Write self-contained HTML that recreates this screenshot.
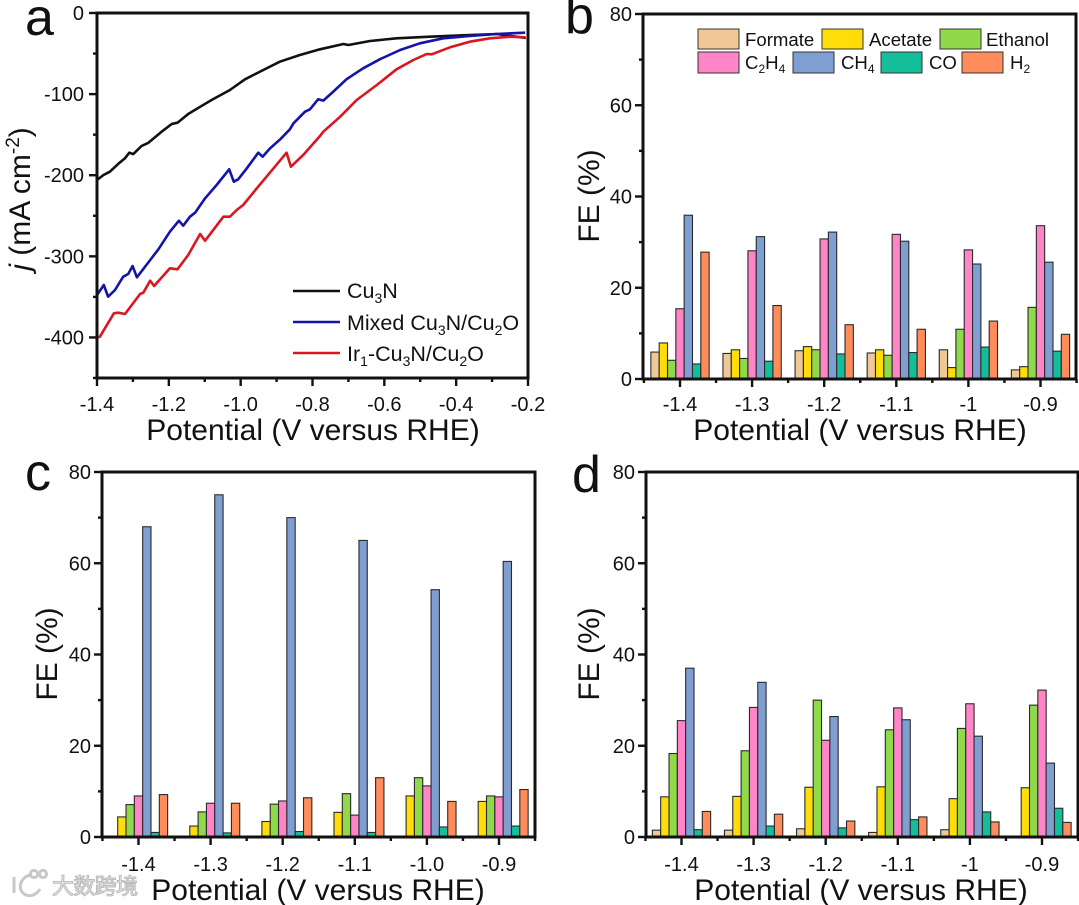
<!DOCTYPE html>
<html lang="en">
<head>
<meta charset="utf-8">
<title>Electrocatalysis chart panels</title>
<style>
html,body{margin:0;padding:0;background:#fff;}
svg{display:block;font-family:"Liberation Sans","Noto Sans CJK SC",sans-serif;fill:#111;}
.frame{fill:none;stroke:#111;stroke-width:3;}
.title{font-size:30px;text-anchor:middle;}
.letter{font-size:52px;}
.tick{font-size:20px;}
.leg-a{font-size:21.5px;}
.leg-b{font-size:18.6px;}
.sw{stroke:#333;stroke-width:1;}
</style>
</head>
<body>
<svg id="chart" xmlns="http://www.w3.org/2000/svg" width="1079" height="905" viewBox="0 0 1079 905">
  <rect x="0" y="0" width="1079" height="905" fill="#fff"/>

  <g id="panel-a"></g>
  <g id="panel-b"></g>
  <g id="panel-c"></g>
  <g id="panel-d"></g>

  <text class="letter" x="25" y="35">a</text>
  <text class="letter" x="565" y="33">b</text>
  <text class="letter" x="25" y="490">c</text>
  <text class="letter" x="572" y="492">d</text>

  <text class="title" x="313" y="440">Potential (V versus RHE)</text>
  <text class="title" x="860" y="440">Potential (V versus RHE)</text>
  <text class="title" x="318" y="900">Potential (V versus RHE)</text>
  <text class="title" x="861" y="900">Potential (V versus RHE)</text>

  <text class="title" transform="translate(30,199) rotate(-90)"><tspan font-style="italic">j</tspan> (mA cm<tspan font-size="19" dy="-11">-2</tspan><tspan dy="11">)</tspan></text>
  <text class="title" transform="translate(599,196) rotate(-90)">FE (%)</text>
  <text class="title" transform="translate(57,654) rotate(-90)">FE (%)</text>
  <text class="title" transform="translate(599,654) rotate(-90)">FE (%)</text>

  <g>
    <line x1="293" y1="291" x2="340" y2="291" stroke="#111" stroke-width="2.5"/>
    <text class="leg-a" x="347" y="298">Cu<tspan font-size="14" dy="5">3</tspan><tspan dy="-5">N</tspan></text>
    <line x1="293" y1="322" x2="340" y2="322" stroke="#1414a8" stroke-width="2.5"/>
    <text class="leg-a" x="347" y="330">Mixed Cu<tspan font-size="14" dy="5">3</tspan><tspan dy="-5">N/Cu</tspan><tspan font-size="14" dy="5">2</tspan><tspan dy="-5">O</tspan></text>
    <line x1="293" y1="353" x2="340" y2="353" stroke="#d81820" stroke-width="2.5"/>
    <text class="leg-a" x="347" y="361">Ir<tspan font-size="14" dy="5">1</tspan><tspan dy="-5">-Cu</tspan><tspan font-size="14" dy="5">3</tspan><tspan dy="-5">N/Cu</tspan><tspan font-size="14" dy="5">2</tspan><tspan dy="-5">O</tspan></text>
  </g>

  <g>
    <rect class="sw" x="698" y="29" width="41" height="20" fill="#f0c896"/>
    <text class="leg-b" x="745" y="46">Formate</text>
    <rect class="sw" x="822" y="29" width="41" height="20" fill="#ffdc0a"/>
    <text class="leg-b" x="869" y="46">Acetate</text>
    <rect class="sw" x="940" y="29" width="41" height="20" fill="#8fd94a"/>
    <text class="leg-b" x="986" y="46">Ethanol</text>
    <rect class="sw" x="698" y="52" width="41" height="21" fill="#ff85c8"/>
    <text class="leg-b" x="745" y="69">C<tspan font-size="12" dy="4">2</tspan><tspan dy="-4">H</tspan><tspan font-size="12" dy="4">4</tspan></text>
    <rect class="sw" x="793" y="52" width="41" height="21" fill="#7f9fd2"/>
    <text class="leg-b" x="841" y="69">CH<tspan font-size="12" dy="4">4</tspan></text>
    <rect class="sw" x="881" y="52" width="41" height="21" fill="#14be9b"/>
    <text class="leg-b" x="929" y="69">CO</text>
    <rect class="sw" x="962" y="52" width="41" height="21" fill="#ff8c5a"/>
    <text class="leg-b" x="1010" y="69">H<tspan font-size="12" dy="4">2</tspan></text>
  </g>

  <g>
    <g fill="none" stroke="#c8c8c8" stroke-width="3">
      <path d="M14 877 L14 893"/>
      <path d="M30 875 C19 878 17 891 26 895 C32 897 37 894 40 889"/>
      <circle cx="34" cy="874" r="3.6"/>
      <circle cx="43" cy="874" r="3.6"/>
    </g>
    <text x="52" y="894" font-size="22" textLength="86" fill="#f4f4f4" stroke="#bdbdbd" stroke-width="1.1">大数跨境</text>
  </g>
</svg>

<script>
/* ---------- panel a : LSV curves ---------- */
const lsvXTicks = [-1.4, -1.2, -1.0, -0.8, -0.6, -0.4, -0.2];
const lsvXMinorTicks = [-1.3, -1.1, -0.9, -0.7, -0.5, -0.3];
const lsvYTicks = [0, -100, -200, -300, -400];
const lsvYMinorTicks = [-50, -150, -250, -350, -450];

const cu3nPotential = [-1.4,-1.382,-1.364,-1.341,-1.322,-1.31,-1.299,-1.276,-1.257,-1.22,-1.192,-1.176,-1.146,-1.113,-1.081,-1.03,-0.988,-0.937,-0.891,-0.835,-0.779,-0.714,-0.7,-0.64,-0.566,-0.473,-0.381,-0.286,-0.206];
const cu3nCurrent = [-205.9,-199.7,-195.6,-186,-179,-172.2,-173.9,-164,-160,-146.3,-136.9,-135.3,-124.5,-115.6,-107.3,-94.9,-81.7,-70.3,-60,-51.8,-44.8,-38.2,-39.5,-34.5,-31.2,-29.2,-27.5,-25.9,-30.8];

const mixedPotential = [-1.4,-1.381,-1.369,-1.35,-1.327,-1.313,-1.301,-1.289,-1.252,-1.229,-1.197,-1.172,-1.16,-1.141,-1.127,-1.099,-1.067,-1.032,-1.019,-1.007,-0.983,-0.951,-0.939,-0.918,-0.89,-0.863,-0.853,-0.821,-0.807,-0.784,-0.77,-0.742,-0.705,-0.659,-0.612,-0.556,-0.501,-0.436,-0.362,-0.287,-0.208];
const mixedCurrent = [-347.7,-335.3,-349.8,-341.5,-325.1,-321.8,-311.9,-325.9,-304.5,-291.3,-269.6,-256.1,-262.2,-251.1,-246.2,-228.5,-212,-192.7,-208,-205,-191.5,-172.2,-177.2,-166.8,-155.7,-143.4,-136,-121.7,-118.7,-106.3,-108,-96.9,-81.6,-68.2,-57,-45.6,-37.4,-31.2,-28.4,-25.9,-24.3];

const ir1Potential = [-1.4,-1.392,-1.353,-1.341,-1.322,-1.28,-1.271,-1.252,-1.241,-1.197,-1.176,-1.146,-1.113,-1.099,-1.048,-1.03,-1.011,-0.993,-0.955,-0.872,-0.86,-0.826,-0.779,-0.77,-0.723,-0.677,-0.621,-0.566,-0.519,-0.482,-0.468,-0.417,-0.362,-0.306,-0.25,-0.208];
const ir1Current = [-399.8,-399.1,-370.2,-369.5,-371.1,-346.4,-344.8,-330,-336.6,-314.8,-316,-298.4,-272.5,-280.7,-251.1,-251.1,-242.9,-236.7,-216.1,-172.2,-189.5,-175.1,-151.6,-146.3,-127.9,-107.3,-88.8,-69.4,-57.9,-50.5,-50.9,-42.3,-35.4,-31.2,-29.2,-30];

/* ---------- bar panels b, c, d ---------- */
const feTicks = [0, 20, 40, 60, 80];
const feMinorTicks = [10, 30, 50, 70];
const catsB = ['-1.4', '-1.3', '-1.2', '-1.1', '-1', '-0.9'];
const catsC = ['-1.4', '-1.3', '-1.2', '-1.1', '-1.0', '-0.9'];
const catsD = ['-1.4', '-1.3', '-1.2', '-1.1', '-1', '-0.9'];
const seriesKeys = ['formate', 'acetate', 'ethanol', 'c2h4', 'ch4', 'co', 'h2'];

const bFormate = [5.9, 5.6, 6.2, 5.7, 6.4, 2.0];
const bAcetate = [7.9, 6.4, 7.1, 6.4, 2.5, 2.7];
const bEthanol = [4.1, 4.5, 6.4, 5.2, 10.9, 15.7];
const bC2H4 = [15.4, 28.1, 30.7, 31.7, 28.3, 33.6];
const bCH4 = [35.9, 31.2, 32.2, 30.2, 25.2, 25.6];
const bCO = [3.3, 3.9, 5.5, 5.8, 7.0, 6.1];
const bH2 = [27.8, 16.1, 11.9, 10.9, 12.7, 9.8];

const cFormate = [0, 0, 0, 0, 0, 0];
const cAcetate = [4.4, 2.4, 3.4, 5.4, 9.0, 7.8];
const cEthanol = [7.1, 5.5, 7.2, 9.5, 13.0, 9.0];
const cC2H4 = [9.0, 7.4, 7.9, 4.8, 11.2, 8.8];
const cCH4 = [68, 75, 70, 65, 54.2, 60.4];
const cCO = [1.0, 0.9, 1.2, 1.0, 2.2, 2.4];
const cH2 = [9.3, 7.4, 8.6, 13, 7.8, 10.4];

const dFormate = [1.5, 1.5, 1.8, 1.0, 1.6, 0];
const dAcetate = [8.8, 8.9, 10.9, 11.0, 8.4, 10.8];
const dEthanol = [18.3, 18.9, 30, 23.5, 23.8, 28.9];
const dC2H4 = [25.5, 28.4, 21.2, 28.3, 29.2, 32.2];
const dCH4 = [37, 33.9, 26.4, 25.7, 22.1, 16.2];
const dCO = [1.6, 2.4, 2.0, 3.8, 5.5, 6.3];
const dH2 = [5.6, 5.0, 3.5, 4.4, 3.3, 3.2];

/* ---------- drawing ---------- */
const SVGNS = 'http://www.w3.org/2000/svg';
const seriesFill = {formate:'#f0c896', acetate:'#ffdc0a', ethanol:'#8fd94a', c2h4:'#ff85c8', ch4:'#7f9fd2', co:'#14be9b', h2:'#ff8c5a'};

function mk(tag, attrs, parent) {
  const e = document.createElementNS(SVGNS, tag);
  for (const k in attrs) e.setAttribute(k, attrs[k]);
  parent.appendChild(e);
  return e;
}

function yTick(parent, left, y, len) {
  const t = mk('line', {x1:left - len, x2:left, y1:y, y2:y, stroke:'#111', 'stroke-width':2.4}, parent);
  
  
}
function xTick(parent, bottom, x, len) {
  const t = mk('line', {x1:x, x2:x, y1:bottom, y2:bottom + len, stroke:'#111', 'stroke-width':2.4}, parent);
  
  
}
function yLabel(parent, x, y, str) {
  const t = mk('text', {x:x, y:y + 7, 'text-anchor':'end', 'class':'tick'}, parent);
  t.textContent = str;
  
  
}
function xLabel(parent, x, y, str) {
  const t = mk('text', {x:x, y:y, 'text-anchor':'middle', 'class':'tick'}, parent);
  t.textContent = str;
  
  
}
function frameRect(parent, L, T, R, B) {
  const f = mk('rect', {x:L, y:T, width:R - L, height:B - T, 'class':'frame'}, parent);
  
  
}

/* panel a */
(function () {
  const g = document.getElementById('panel-a');
  const L = 97, R = 528, T = 13, B = 378;
  const sx = v => L + (v - (-1.4)) / 1.2 * (R - L);
  const sy = v => T + (0 - v) / 450 * (B - T);
  function curve(xs, ys, color, name) {
    const d = xs.map((x, i) => (i ? 'L' : 'M') + sx(x).toFixed(1) + ' ' + sy(ys[i]).toFixed(1)).join(' ');
    const p = mk('path', {d:d, fill:'none', stroke:color, 'stroke-width':2.6, 'stroke-linejoin':'round'}, g);
    
    
  }
  curve(cu3nPotential, cu3nCurrent, '#111111', 'line-cu3n');
  curve(ir1Potential, ir1Current, '#d81820', 'line-ir1-cu3n-cu2o');
  curve(mixedPotential, mixedCurrent, '#1414a8', 'line-mixed-cu3n-cu2o');
  lsvYTicks.forEach(v => { yTick(g, L, sy(v), 8); yLabel(g, L - 13, sy(v), String(v)); });
  lsvYMinorTicks.forEach(v => yTick(g, L, sy(v), 4));
  lsvXTicks.forEach(v => { xTick(g, B, sx(v), 8); xLabel(g, sx(v), 411, v.toFixed(1)); });
  lsvXMinorTicks.forEach(v => xTick(g, B, sx(v), 4));
  frameRect(g, L, T, R, B);
})();

/* bar panels */
function barPanel(id, L, R, T, B, firstTick, step, labelY, cats, seriesValues) {
  const g = document.getElementById(id);
  const sx = i => firstTick + i * step;
  const sy = v => B - v / 80 * (B - T);
  const barW = step / 8.66;
  seriesValues.forEach((vals, s) => {
    vals.forEach((v, i) => {
      const x = sx(i) + (s - 3.5) * barW;
      const r = mk('rect', {x:x.toFixed(2), y:sy(v).toFixed(2), width:barW.toFixed(2), height:(B - sy(v)).toFixed(2), fill:seriesFill[seriesKeys[s]], stroke:'#2a2a2a', 'stroke-width':1.1}, g);
      
      
    });
  });
  feTicks.forEach(v => { yTick(g, L, sy(v), 8); yLabel(g, L - 11, sy(v), String(v)); });
  feMinorTicks.forEach(v => yTick(g, L, sy(v), 4));
  cats.forEach((c, i) => { xTick(g, B, sx(i), 8); xLabel(g, sx(i), labelY, c); });
  for (let i = 0; i <= cats.length; i++) xTick(g, B, sx(i) - step / 2, 4);
  frameRect(g, L, T, R, B);
}

barPanel('panel-b', 643, 1076, 14, 379, 680, 72.1, 411, catsB, [bFormate, bAcetate, bEthanol, bC2H4, bCH4, bCO, bH2]);
barPanel('panel-c', 102, 535, 472, 837, 138.5, 72.1, 871, catsC, [cFormate, cAcetate, cEthanol, cC2H4, cCH4, cCO, cH2]);
barPanel('panel-d', 646, 1078, 472, 837, 681.5, 72.1, 871, catsD, [dFormate, dAcetate, dEthanol, dC2H4, dCH4, dCO, dH2]);
</script>
</body>
</html>
